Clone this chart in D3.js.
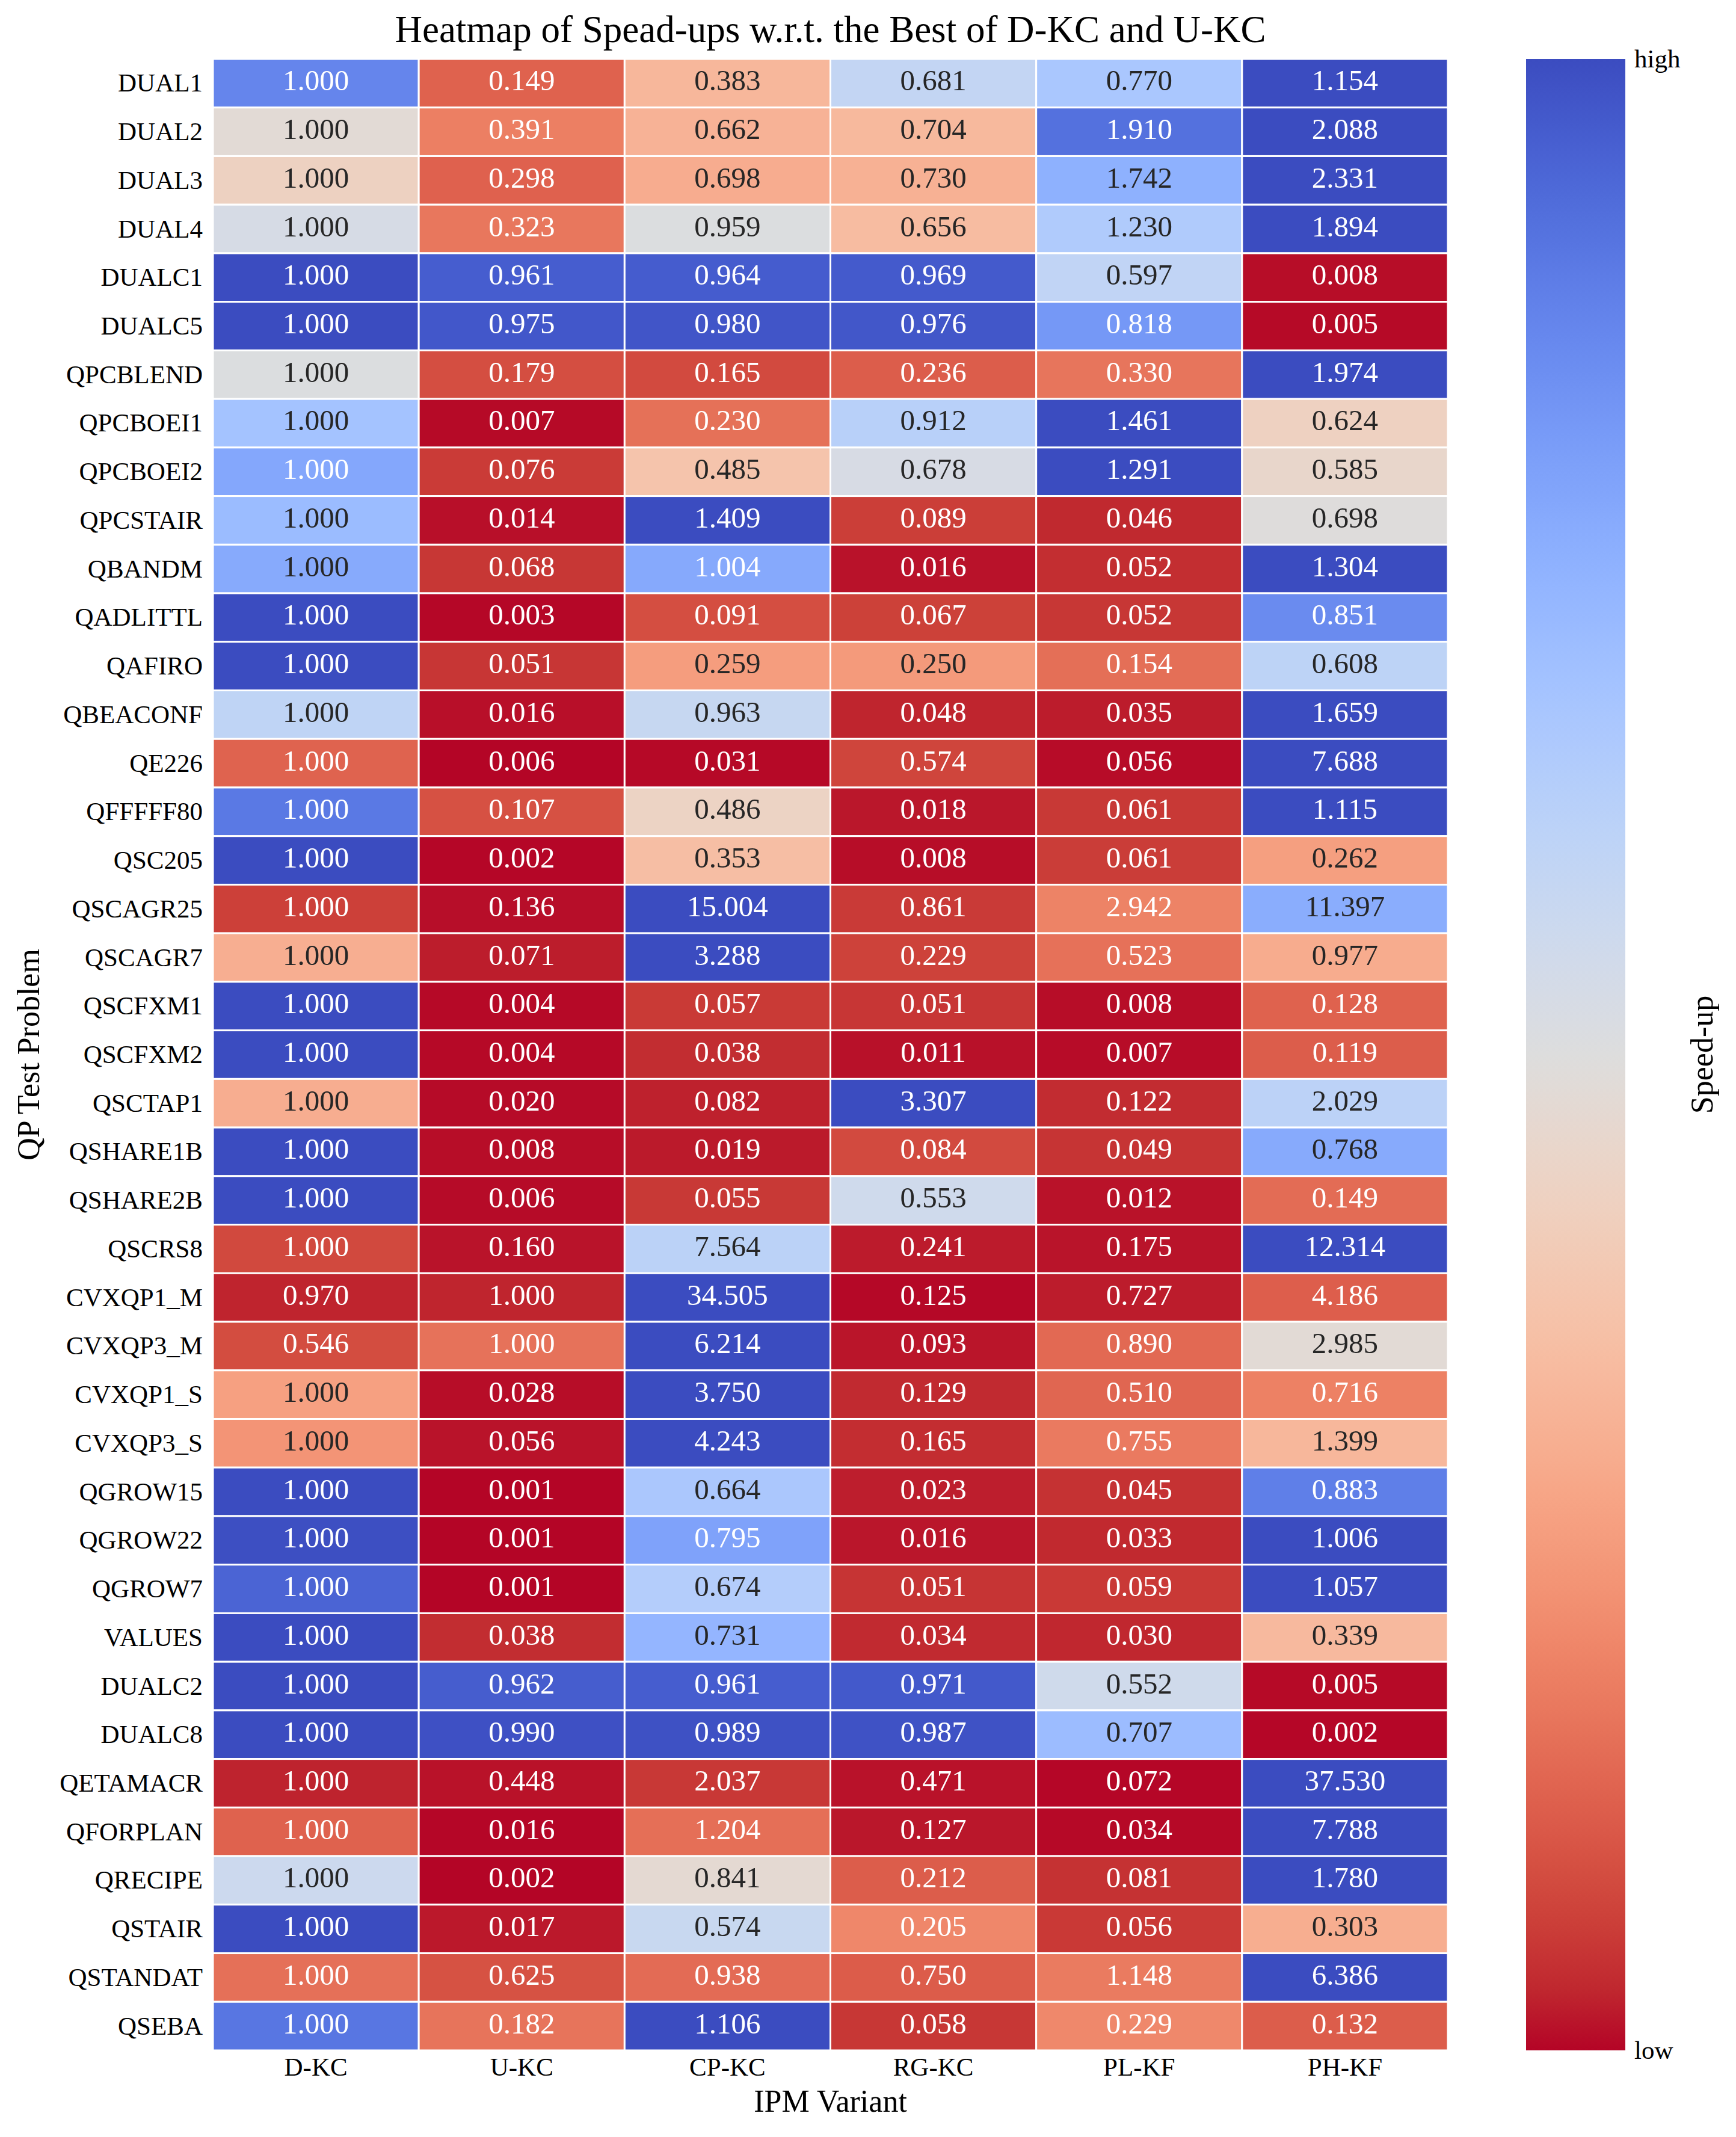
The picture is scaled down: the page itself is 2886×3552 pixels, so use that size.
<!DOCTYPE html>
<html>
<head>
<meta charset="utf-8">
<script src="https://cdn.jsdelivr.net/npm/d3@7"></script>
<style>
  body { margin: 0; background: #fff; }
  svg { display: block; font-family: "Liberation Serif", "DejaVu Serif", serif; }
</style>
</head>
<body>
<svg id="chart" width="2886" height="3552"></svg>
<script>
// problems (rows) and IPM variants (columns)
const problems = [
  "DUAL1", "DUAL2", "DUAL3", "DUAL4", "DUALC1", "DUALC5", "QPCBLEND", "QPCBOEI1",
  "QPCBOEI2", "QPCSTAIR", "QBANDM", "QADLITTL", "QAFIRO", "QBEACONF", "QE226",
  "QFFFFF80", "QSC205", "QSCAGR25", "QSCAGR7", "QSCFXM1", "QSCFXM2", "QSCTAP1",
  "QSHARE1B", "QSHARE2B", "QSCRS8", "CVXQP1_M", "CVXQP3_M", "CVXQP1_S", "CVXQP3_S",
  "QGROW15", "QGROW22", "QGROW7", "VALUES", "DUALC2", "DUALC8", "QETAMACR",
  "QFORPLAN", "QRECIPE", "QSTAIR", "QSTANDAT", "QSEBA"
];
const variants = ["D-KC", "U-KC", "CP-KC", "RG-KC", "PL-KF", "PH-KF"];

// speed-ups, one row per problem
const speedups = [
  [1.000, 0.149, 0.383, 0.681, 0.770, 1.154],
  [1.000, 0.391, 0.662, 0.704, 1.910, 2.088],
  [1.000, 0.298, 0.698, 0.730, 1.742, 2.331],
  [1.000, 0.323, 0.959, 0.656, 1.230, 1.894],
  [1.000, 0.961, 0.964, 0.969, 0.597, 0.008],
  [1.000, 0.975, 0.980, 0.976, 0.818, 0.005],
  [1.000, 0.179, 0.165, 0.236, 0.330, 1.974],
  [1.000, 0.007, 0.230, 0.912, 1.461, 0.624],
  [1.000, 0.076, 0.485, 0.678, 1.291, 0.585],
  [1.000, 0.014, 1.409, 0.089, 0.046, 0.698],
  [1.000, 0.068, 1.004, 0.016, 0.052, 1.304],
  [1.000, 0.003, 0.091, 0.067, 0.052, 0.851],
  [1.000, 0.051, 0.259, 0.250, 0.154, 0.608],
  [1.000, 0.016, 0.963, 0.048, 0.035, 1.659],
  [1.000, 0.006, 0.031, 0.574, 0.056, 7.688],
  [1.000, 0.107, 0.486, 0.018, 0.061, 1.115],
  [1.000, 0.002, 0.353, 0.008, 0.061, 0.262],
  [1.000, 0.136, 15.004, 0.861, 2.942, 11.397],
  [1.000, 0.071, 3.288, 0.229, 0.523, 0.977],
  [1.000, 0.004, 0.057, 0.051, 0.008, 0.128],
  [1.000, 0.004, 0.038, 0.011, 0.007, 0.119],
  [1.000, 0.020, 0.082, 3.307, 0.122, 2.029],
  [1.000, 0.008, 0.019, 0.084, 0.049, 0.768],
  [1.000, 0.006, 0.055, 0.553, 0.012, 0.149],
  [1.000, 0.160, 7.564, 0.241, 0.175, 12.314],
  [0.970, 1.000, 34.505, 0.125, 0.727, 4.186],
  [0.546, 1.000, 6.214, 0.093, 0.890, 2.985],
  [1.000, 0.028, 3.750, 0.129, 0.510, 0.716],
  [1.000, 0.056, 4.243, 0.165, 0.755, 1.399],
  [1.000, 0.001, 0.664, 0.023, 0.045, 0.883],
  [1.000, 0.001, 0.795, 0.016, 0.033, 1.006],
  [1.000, 0.001, 0.674, 0.051, 0.059, 1.057],
  [1.000, 0.038, 0.731, 0.034, 0.030, 0.339],
  [1.000, 0.962, 0.961, 0.971, 0.552, 0.005],
  [1.000, 0.990, 0.989, 0.987, 0.707, 0.002],
  [1.000, 0.448, 2.037, 0.471, 0.072, 37.530],
  [1.000, 0.016, 1.204, 0.127, 0.034, 7.788],
  [1.000, 0.002, 0.841, 0.212, 0.081, 1.780],
  [1.000, 0.017, 0.574, 0.205, 0.056, 0.303],
  [1.000, 0.625, 0.938, 0.750, 1.148, 6.386],
  [1.000, 0.182, 1.106, 0.058, 0.229, 0.132]
];

// coolwarm control colours (Moreland), blue -> red
const coolwarm = [
  "#3b4cc0", "#445acc", "#4d68d7", "#5775e1", "#6282ea", "#6c8ef1", "#779af7", "#82a5fb",
  "#8db0fe", "#98b9ff", "#a3c2ff", "#aec9fd", "#b8d0f9", "#c2d5f4", "#ccd9ee", "#d5dbe6",
  "#dddddd", "#e5d8d1", "#ecd3c5", "#f1ccb8", "#f5c4ac", "#f7bba0", "#f7b194", "#f7a687",
  "#f49a7b", "#f18d6f", "#ec7f63", "#e57058", "#de604d", "#d55042", "#cb3e38", "#c0282f",
  "#b40426"
];

/* ------------------ 스케일 ------------------ */

const svg = d3.select("#chart");

const plotLeft = 354, plotRight = 2407, plotTop = 98, plotBottom = 3408;

const x = d3.scaleBand().domain(variants).range([plotLeft, plotRight]);
const y = d3.scaleBand().domain(problems).range([plotTop, plotBottom]);

const warm = d3.scaleLinear()
  .domain(d3.range(coolwarm.length).map(i => i / (coolwarm.length - 1)))
  .range(coolwarm)
  .interpolate(d3.interpolateRgb)
  .clamp(true);

// reversed map: low = red, high = blue
const color = t => warm(1 - t);

function luminance(c) {
  const rgb = d3.rgb(c);
  const lin = v => {
    v /= 255;
    return v <= 0.03928 ? v / 12.92 : Math.pow((v + 0.055) / 1.055, 2.4);
  };
  return 0.2126 * lin(rgb.r) + 0.7152 * lin(rgb.g) + 0.0722 * lin(rgb.b);
}

const fmt = d3.format(".3f");

// each row scaled by its own best value
const cells = problems.flatMap((p, i) => {
  const rowMax = d3.max(speedups[i]);
  return speedups[i].map((v, j) => ({
    problem: p,
    variant: variants[j],
    value: v,
    norm: v / rowMax
  }));
});

/* ------------------ 히트맵 ------------------ */

const g = svg.append("g");

g.selectAll("rect")
  .data(cells)
  .join("rect")
  .attr("x", d => x(d.variant))
  .attr("y", d => y(d.problem))
  .attr("width", x.bandwidth())
  .attr("height", y.bandwidth())
  .attr("fill", d => color(d.norm))
  .attr("stroke", "#fff")
  .attr("stroke-width", 3);

g.selectAll("text.annot")
  .data(cells)
  .join("text")
  .attr("class", "annot")
  .attr("x", d => x(d.variant) + x.bandwidth() / 2)
  .attr("y", d => y(d.problem) + y.bandwidth() / 2 + 12)
  .attr("text-anchor", "middle")
  .attr("font-size", 49)
  .attr("fill", d => luminance(color(d.norm)) > 0.408 ? "#262626" : "#fff")
  .text(d => fmt(d.value));

/* ------------------ 축 ------------------ */

const xAxis = svg.append("g")
  .attr("transform", `translate(0,${plotBottom})`)
  .call(d3.axisBottom(x).tickSize(0).tickPadding(42));
xAxis.select(".domain").remove();
xAxis.selectAll("text")
  .attr("font-size", 43)
  .attr("font-family", "Liberation Serif")
  .attr("fill", "#000")
  .attr("dy", 0);

const yAxis = svg.append("g")
  .attr("transform", `translate(${plotLeft},0)`)
  .call(d3.axisLeft(y).tickSize(0).tickPadding(17));
yAxis.select(".domain").remove();
yAxis.selectAll("text")
  .attr("font-size", 43)
  .attr("font-family", "Liberation Serif")
  .attr("fill", "#000")
  .attr("dy", 0)
  .attr("y", 14);

svg.append("text")
  .attr("x", (plotLeft + plotRight) / 2)
  .attr("y", 70)
  .attr("text-anchor", "middle")
  .attr("font-size", 63)
  .text("Heatmap of Spead-ups w.r.t. the Best of D-KC and U-KC");

svg.append("text")
  .attr("x", (plotLeft + plotRight) / 2)
  .attr("y", 3510)
  .attr("text-anchor", "middle")
  .attr("font-size", 52)
  .text("IPM Variant");

svg.append("text")
  .attr("transform", `translate(65,${(plotTop + plotBottom) / 2}) rotate(-90)`)
  .attr("text-anchor", "middle")
  .attr("font-size", 52)
  .text("QP Test Problem");

/* ------------------ 컬러바 ------------------ */

const cbLeft = 2537, cbWidth = 165;

const grad = svg.append("defs").append("linearGradient")
  .attr("id", "cbar")
  .attr("x1", 0).attr("y1", 1)
  .attr("x2", 0).attr("y2", 0);

grad.selectAll("stop")
  .data(d3.range(0, 1.0001, 1 / 64))
  .join("stop")
  .attr("offset", d => d)
  .attr("stop-color", d => color(d));

const cb = d3.scaleLinear().domain([0, 1]).range([plotBottom, plotTop]);

svg.append("rect")
  .attr("x", cbLeft)
  .attr("y", cb(1))
  .attr("width", cbWidth)
  .attr("height", cb(0) - cb(1))
  .attr("fill", "url(#cbar)");

const cbAxis = svg.append("g")
  .attr("transform", `translate(${cbLeft + cbWidth},0)`)
  .call(d3.axisRight(cb).tickValues([0, 1]).tickFormat(d => d ? "high" : "low")
    .tickSize(0).tickPadding(15));
cbAxis.select(".domain").remove();
cbAxis.selectAll("text")
  .attr("font-size", 43)
  .attr("font-family", "Liberation Serif")
  .attr("fill", "#000");

svg.append("text")
  .attr("transform", `translate(2847,${(plotTop + plotBottom) / 2}) rotate(-90)`)
  .attr("text-anchor", "middle")
  .attr("font-size", 52)
  .text("Speed-up");
</script>
</body>
</html>
